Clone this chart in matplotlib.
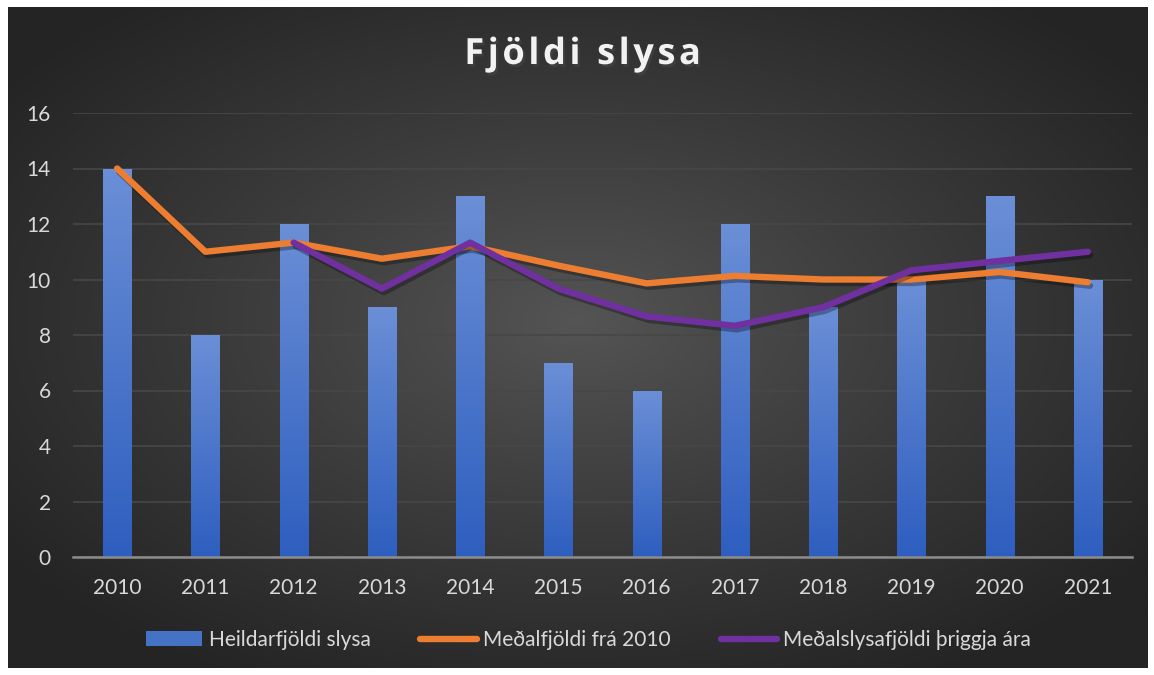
import numpy as np
import matplotlib.pyplot as plt
import matplotlib.patheffects as pe

# Data
years = ['2010', '2011', '2012', '2013', '2014', '2015',
         '2016', '2017', '2018', '2019', '2020', '2021']
total = [14, 8, 12, 9, 13, 7, 6, 12, 9, 10, 13, 10]
avg_since_2010 = [14, 11, 11.33, 10.75, 11.2, 10.5, 9.86, 10.13, 10.0, 10.0, 10.27, 9.9]
avg_3yr = [np.nan, np.nan, 11.33, 9.67, 11.33, 9.67, 8.67, 8.33, 9.0, 10.33, 10.67, 11.0]
yticks = [0, 2, 4, 6, 8, 10, 12, 14, 16]

W, H = 1154, 675
fig = plt.figure(figsize=(W / 100, H / 100), dpi=100)
fig.patch.set_facecolor('white')

# dark radial background
bg = fig.add_axes([8 / W, 7 / H, 1140 / W, 661 / H])
gx, gy = np.meshgrid(np.linspace(-1, 1, 400), np.linspace(-1, 1, 240))
r = np.clip(np.sqrt(gx ** 2 + (gy + 0.05) ** 2) / 1.25, 0, 1)
c0, c1 = np.array([0x55, 0x55, 0x55]) / 255, np.array([0x24, 0x24, 0x24]) / 255
img = c0 + (c1 - c0) * r[..., None] ** 0.9
bg.imshow(img, aspect='auto', extent=(0, 1, 0, 1))
bg.axis('off')

ax = fig.add_axes([73 / W, 1 - 557 / H, (1132 - 73) / W, (557 - 113) / H])
ax.set_facecolor('none')
x = np.arange(len(years))

bars = ax.bar(x, total, width=0.32, color='#4472C4', zorder=2,
              label='Heildarfjöldi slysa')
grad = np.linspace(0, 1, 100)[:, None]
top_c, bot_c = np.array([0.42, 0.56, 0.84]), np.array([0.18, 0.37, 0.75])
grad_img = bot_c + (top_c - bot_c) * grad[..., None]
for b in bars:
    bx, bw, bh = b.get_x(), b.get_width(), b.get_height()
    im = ax.imshow(np.repeat(grad_img, 2, axis=1), origin='lower', aspect='auto',
                   extent=(bx, bx + bw, 0, bh), zorder=2.1)
    im.set_clip_path(b)

shadow = [pe.SimpleLineShadow(offset=(1.5, -2.5), shadow_color='black', alpha=0.3),
          pe.Normal()]
l1, = ax.plot(x, avg_since_2010, color='#ED7D31', lw=4.6, solid_capstyle='round',
              zorder=4, label='Meðalfjöldi frá 2010', path_effects=shadow)
l2, = ax.plot(x, avg_3yr, color='#7030A0', lw=4.6, solid_capstyle='round',
              zorder=5, label='Meðalslysafjöldi þriggja ára', path_effects=shadow)

ax.set_xlim(-0.5, len(years) - 0.5)
ax.set_ylim(0, 16)
ax.set_yticks(yticks)
ax.set_xticks(x, years)
ax.grid(axis='y', color='#474747', linewidth=1.2, zorder=0)
ax.set_axisbelow(True)
for s in ['top', 'right', 'left']:
    ax.spines[s].set_visible(False)
ax.spines['bottom'].set_color('#8c8c8c')
ax.spines['bottom'].set_linewidth(1.8)
ax.spines['bottom'].set_zorder(6)
ax.tick_params(length=0, colors='#d9d9d9', labelsize=15)
ax.tick_params(axis='y', pad=16)
ax.tick_params(axis='x', pad=15)
for t in ax.get_xticklabels() + ax.get_yticklabels():
    t.set_family('Lato')

# title with wide letter spacing
title = '\u200a'.join('Fjöldi') + '\u200a \u200a' + '\u200a'.join('slysa')
fig.text(0.505, 1 - 55 / H, title, ha='center', va='center',
         color='#f2f2f2', fontsize=26, fontweight='bold', family='Open Sans',
         path_effects=[pe.withSimplePatchShadow(offset=(1.5, -2), alpha=0.5)])

leg = fig.legend([bars, l1, l2], [bars.get_label(), l1.get_label(), l2.get_label()],
                 loc='center', bbox_to_anchor=(0.51, 1 - 640 / H),
                 ncol=3, frameon=False, handlelength=2.7, handletextpad=0.3,
                 columnspacing=2.4, prop={'family': 'Lato', 'size': 15})
for t in leg.get_texts():
    t.set_color('#d9d9d9')
for h in leg.legend_handles:
    if hasattr(h, 'set_path_effects'):
        h.set_path_effects([])

fig.savefig('out.png', dpi=100, facecolor='white')
